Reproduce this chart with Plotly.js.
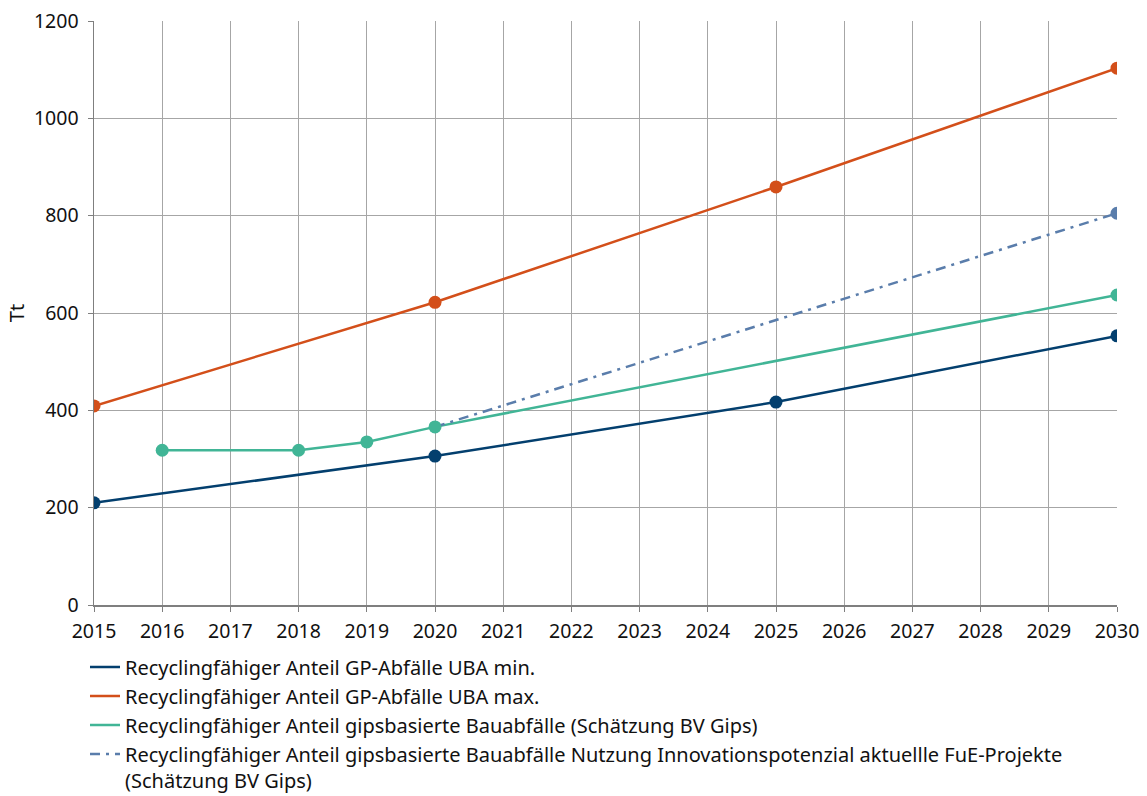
<!DOCTYPE html>
<html>
<head>
<meta charset="utf-8">
<script src="https://cdn.plot.ly/plotly-3.0.1.min.js"></script>
<style>html,body{margin:0;padding:0;background:#fff;}#chart{width:1147px;height:796px;}</style>
</head>
<body>
<div id="chart"></div>
<script>
const yearsMinMax = [2015, 2020, 2025, 2030];
const ubaMin = [210, 306, 417, 553];
const ubaMax = [409, 622, 859, 1103];
const yearsBV = [2016, 2018, 2019, 2020, 2030];
const bvGips = [318, 318, 335, 366, 637];
const yearsInno = [2020, 2030];
const bvInno = [366, 805];
const xTicks = [2015,2016,2017,2018,2019,2020,2021,2022,2023,2024,2025,2026,2027,2028,2029,2030];
const names = [
  'Recyclingfähiger Anteil GP-Abfälle UBA min.',
  'Recyclingfähiger Anteil GP-Abfälle UBA max.',
  'Recyclingfähiger Anteil gipsbasierte Bauabfälle (Schätzung BV Gips)',
  'Recyclingfähiger Anteil gipsbasierte Bauabfälle Nutzung Innovationspotenzial aktuellle FuE-Projekte<br>(Schätzung BV Gips)'
];
const colors = ['#033f6e', '#d34f1a', '#41b596', '#5a7dab'];

const lineSeries = [
  {x: yearsMinMax, y: ubaMin, dash: 'solid'},
  {x: yearsMinMax, y: ubaMax, dash: 'solid'},
  {x: yearsBV, y: bvGips, dash: 'solid'},
  {x: yearsInno, y: bvInno, dash: '10px,6px,3px,6px'}
];
const markerSeries = [
  {x: yearsMinMax, y: ubaMin},
  {x: yearsMinMax, y: ubaMax},
  {x: yearsBV, y: bvGips},
  {x: yearsInno.slice(1), y: bvInno.slice(1)}
];

const traces = [];
lineSeries.forEach((s, i) => {
  traces.push({x: s.x, y: s.y, mode: 'lines', name: names[i],
    line: {color: colors[i], width: 2.5, dash: s.dash}, hoverinfo: 'skip'});
});
markerSeries.forEach((s, i) => {
  traces.push({x: s.x, y: s.y, mode: 'markers', showlegend: false,
    marker: {color: colors[i], size: 13, opacity: 1, line: {width: 0}}, hoverinfo: 'skip'});
});

const layout = {
  width: 1147, height: 796,
  margin: {l: 94, r: 30, t: 21, b: 191, autoexpand: false},
  paper_bgcolor: '#fff', plot_bgcolor: '#fff',
  font: {family: 'Noto Sans, sans-serif', size: 19.5, color: '#111'},
  showlegend: true,
  legend: {x: -0.0088, xanchor: 'left', y: -0.0726, yanchor: 'top', orientation: 'v',
    valign: 'top',
    font: {size: 20, color: '#111'}, itemwidth: 30, tracegroupgap: 0, bgcolor: 'rgba(0,0,0,0)'},
  xaxis: {range: [2015, 2030], tickvals: xTicks, ticktext: xTicks.map(String),
    showgrid: true, gridcolor: '#a6a6a6', gridwidth: 1,
    showline: true, linecolor: '#7f7f7f', linewidth: 1.5,
    ticks: 'outside', ticklen: 5, tickcolor: '#7f7f7f', zeroline: false,
    ticklabelstandoff: 3,
    tickfont: {size: 19.5}},
  yaxis: {range: [0, 1200], tickvals: [0,200,400,600,800,1000,1200],
    showgrid: true, gridcolor: '#a6a6a6', gridwidth: 1,
    showline: true, linecolor: '#7f7f7f', linewidth: 1.5,
    ticks: 'outside', ticklen: 5, tickcolor: '#7f7f7f', zeroline: false,
    ticklabelstandoff: 5,
    tickfont: {size: 19.5},
    title: {text: 'Tt', font: {size: 20}, standoff: 4}}
};

Plotly.newPlot('chart', traces, layout, {displayModeBar: false, staticPlot: true});
</script>
</body>
</html>
